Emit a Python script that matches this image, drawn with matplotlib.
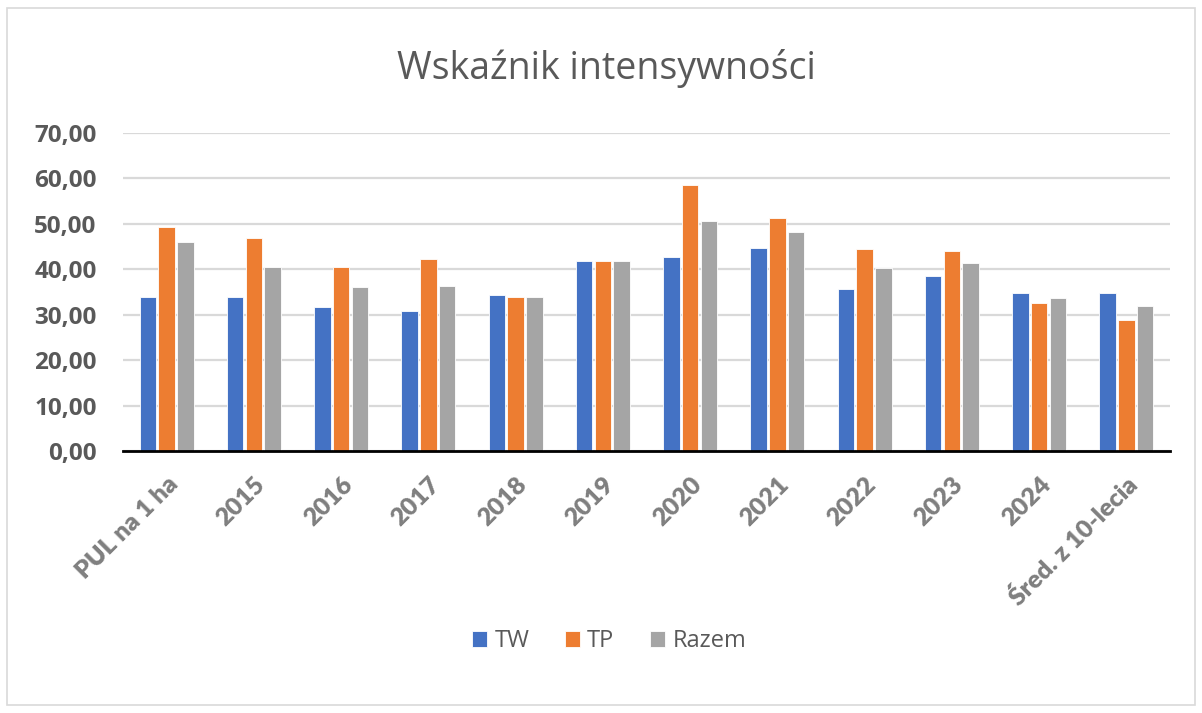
import matplotlib
matplotlib.use('Agg')
import matplotlib.pyplot as plt
from matplotlib.patches import Rectangle
import numpy as np

plt.rcParams['font.family'] = ['Open Sans', 'DejaVu Sans']

categories = ['PUL na 1 ha', '2015', '2016', '2017', '2018', '2019', '2020',
              '2021', '2022', '2023', '2024', 'Śred. z 10-lecia']
tw = [34.0, 34.0, 31.6, 30.8, 34.3, 41.9, 42.7, 44.7, 35.7, 38.5, 34.7, 34.7]
tp = [49.2, 46.8, 40.5, 42.3, 34.0, 41.9, 58.6, 51.3, 44.4, 44.0, 32.5, 28.8]
razem = [46.1, 40.5, 36.1, 36.4, 34.0, 41.9, 50.6, 48.2, 40.2, 41.3, 33.6, 31.9]

series = [('TW', tw, '#4472C4'), ('TP', tp, '#ED7D31'), ('Razem', razem, '#A5A5A5')]

fig = plt.figure(figsize=(12.02, 7.13), dpi=100)
ax = fig.add_axes([123 / 1202, 1 - 451 / 713, (1170 - 123) / 1202, (451 - 133) / 713])

# outer chart border
fig.patches.append(Rectangle((7 / 1202, 8 / 713), 1188 / 1202, 697 / 713,
                             transform=fig.transFigure, fill=False,
                             edgecolor='#D9D9D9', linewidth=1.2))

x = np.arange(len(categories))
w = 0.19
for i, (name, vals, col) in enumerate(series):
    ax.bar(x + (i - 1) * 0.215, vals, w, color=col, label=name, zorder=3,
           edgecolor='white', linewidth=0.6)

ax.set_xlim(-0.5, len(categories) - 0.5)
ax.set_ylim(0, 70)
ax.set_yticks(np.arange(0, 71, 10))
ax.set_yticklabels([f'{v:.2f}'.replace('.', ',') for v in np.arange(0, 71, 10)],
                   fontsize=17.5, fontweight='bold', color='#595959')
ax.set_xticks(x)
ax.set_xticklabels(categories, rotation=45, ha='right', rotation_mode='anchor',
                   fontsize=18, fontweight='heavy', color='#7F7F7F',
                   family=['Lato', 'DejaVu Sans'])
ax.tick_params(axis='both', length=0)
ax.tick_params(axis='y', pad=19)
ax.tick_params(axis='x', pad=16)

ax.grid(axis='y', color='#D9D9D9', linewidth=1.6, zorder=0)
for s in ['top', 'right', 'left']:
    ax.spines[s].set_visible(False)
ax.spines['bottom'].set_color('black')
ax.spines['bottom'].set_linewidth(2)
ax.spines['bottom'].set_zorder(4)

fig.text(606 / 1202, 1 - 68 / 713, 'Wskaźnik intensywności', ha='center', va='center',
         fontsize=27, color='#595959')

fig.legend(loc='center', bbox_to_anchor=(609 / 1202, 1 - 641 / 713), ncol=3,
           frameon=False, fontsize=17, labelcolor='#595959', handlelength=0.65,
           handleheight=0.65, handletextpad=0.3, columnspacing=1.5)

fig.savefig('out.png', dpi=100)
